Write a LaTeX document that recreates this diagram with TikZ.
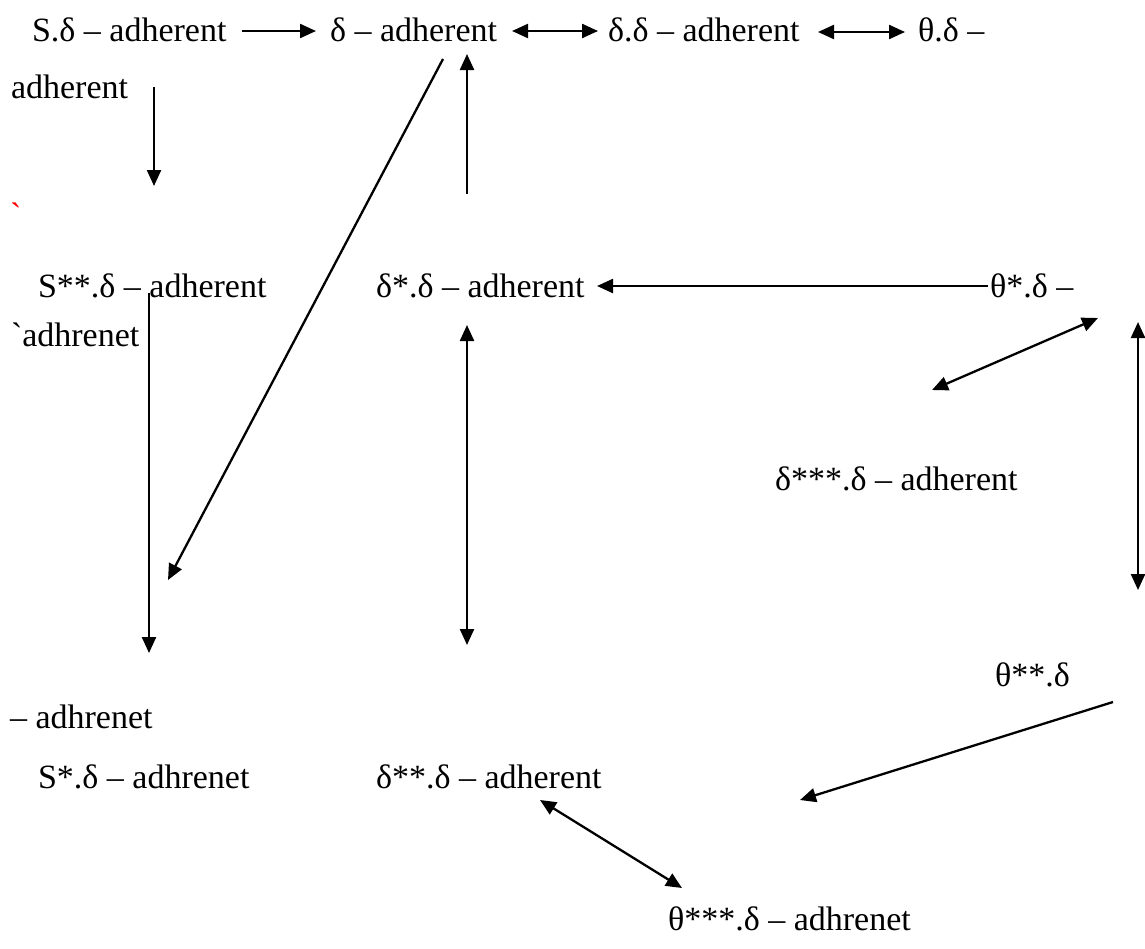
\documentclass[tikz,border=0pt]{standalone}
\usepackage{fontspec}
\newfontfamily\rawserif{Liberation Serif}
\usetikzlibrary{arrows.meta}
\tikzset{
  lbl/.style={anchor=base west, inner sep=0pt, outer sep=0pt, font=\rawserif\fontsize{34}{40}\selectfont},
  headtip/.tip={Triangle[length=16pt,width=14pt]},
  con/.style={line width=2.3pt, -headtip},
  bicon/.style={line width=2.3pt, headtip-headtip}
}
\begin{document}
\begin{tikzpicture}[x=1pt,y=-1pt]
\useasboundingbox (0,0) rectangle (1145,948);
% texts
\node[lbl] (sd)   at (32,41)  {S.δ – adherent};
\node[lbl] (d)    at (330,41) {δ – adherent};
\node[lbl] (dd)   at (608,41) {δ.δ – adherent};
\node[lbl] (td)   at (918,41) {θ.δ –};
\node[lbl] (adh1) at (11,98)  {adherent};
\node[lbl,text=red] (bt) at (10,226) {`};
\node[lbl] (ssd)  at (38,297) {S**.δ – adherent};
\node[lbl] (dsd)  at (376,297) {δ*.δ – adherent};
\node[lbl] (tsd)  at (990,297) {θ*.δ –};
\node[lbl] (adh2) at (11,346) {`adhrenet};
\node[lbl] (dsss) at (775,490) {δ***.δ – adherent};
\node[lbl] (tss)  at (995,686) {θ**.δ};
\node[lbl] (adh3) at (10,728) {– adhrenet};
\node[lbl] (s1d)  at (38,788) {S*.δ – adhrenet};
\node[lbl] (dssd) at (376,788) {δ**.δ – adherent};
\node[lbl] (tsss) at (668,930) {θ***.δ – adhrenet};
% connector end points
\coordinate (a1s) at (242,31);  \coordinate (a1e) at (316,31);
\coordinate (a2s) at (512,31);  \coordinate (a2e) at (598,31);
\coordinate (a3s) at (818,32);  \coordinate (a3e) at (905,32);
\coordinate (a4s) at (154,87);  \coordinate (a4e) at (154,186);
\coordinate (a5s) at (443,59);  \coordinate (a5e) at (168,580);
\coordinate (a6s) at (467,194); \coordinate (a6e) at (467,54);
\coordinate (a7s) at (988,286); \coordinate (a7e) at (597,286);
\coordinate (a8s) at (149,293); \coordinate (a8e) at (149,653);
\coordinate (a9s) at (467,325); \coordinate (a9e) at (467,645);
\coordinate (a10s) at (1098,318); \coordinate (a10e) at (932,390);
\coordinate (a11s) at (1138,322); \coordinate (a11e) at (1138,590);
\coordinate (a12s) at (1113,702); \coordinate (a12e) at (800,800);
\coordinate (a13s) at (540,800); \coordinate (a13e) at (682,888);
% connectors
\draw[con] (a1s) -- (a1e);
\draw[bicon] (a2s) -- (a2e);
\draw[bicon] (a3s) -- (a3e);
\draw[con] (a4s) -- (a4e);
\draw[con] (a5s) -- (a5e);
\draw[con] (a6s) -- (a6e);
\draw[con] (a7s) -- (a7e);
\draw[con] (a8s) -- (a8e);
\draw[bicon] (a9s) -- (a9e);
\draw[bicon] (a10s) -- (a10e);
\draw[bicon] (a11s) -- (a11e);
\draw[con] (a12s) -- (a12e);
\draw[bicon] (a13s) -- (a13e);
\end{tikzpicture}
\end{document}
